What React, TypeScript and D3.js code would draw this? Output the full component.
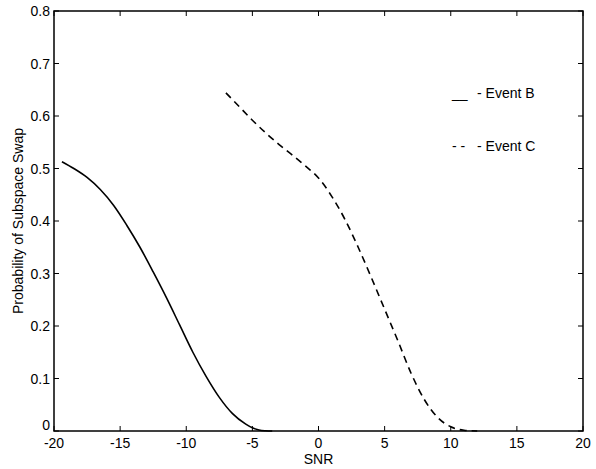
import React from "react";
import * as d3 from "d3";

const xTicks = [-20, -15, -10, -5, 0, 5, 10, 15, 20];
const yTicks = [0, 0.1, 0.2, 0.3, 0.4, 0.5, 0.6, 0.7, 0.8];
const yTickLabels = ["0", "0.1", "0.2", "0.3", "0.4", "0.5", "0.6", "0.7", "0.8"];

const snrB = [-19.4, -18.5, -17.5, -16.5, -15.5, -14.5, -13.5, -12.5, -11.5, -10.5, -9.5, -8.5, -7.5, -6.5, -5.5, -5, -4.5, -4, -3.5];
const probB = [0.513, 0.5, 0.483, 0.46, 0.43, 0.392, 0.35, 0.303, 0.254, 0.202, 0.15, 0.104, 0.064, 0.033, 0.013, 0.006, 0.002, 0.0005, 0];

const snrC = [-7, -6, -5, -4, -3, -2, -1, 0, 1, 2, 3, 4, 5, 6, 7, 8, 9, 10, 11, 12];
const probC = [0.644, 0.618, 0.592, 0.568, 0.546, 0.526, 0.505, 0.482, 0.447, 0.403, 0.35, 0.292, 0.232, 0.172, 0.11, 0.06, 0.026, 0.008, 0.0015, 0];

const W = 596, H = 469;
const L = 54, R = 583, T = 11, B = 431;
const font = "'Liberation Sans', Arial, Helvetica, sans-serif";

export default function App() {
  const x = d3.scaleLinear().domain([-20, 20]).range([L, R]);
  const y = d3.scaleLinear().domain([0, 0.8]).range([B, T]);
  const line = d3
    .line<[number, number]>()
    .x((d) => x(d[0]))
    .y((d) => y(d[1]))
    .curve(d3.curveMonotoneX);
  const dB = line(snrB.map((s, i) => [s, probB[i]] as [number, number])) || "";
  const dC = line(snrC.map((s, i) => [s, probC[i]] as [number, number])) || "";
  const tl = 5;
  return (
    <svg width={W} height={H} style={{ position: "absolute", left: 0, top: 0, background: "#fff" }}>
      <rect x={0} y={0} width={W} height={H} fill="#fff" />
      {xTicks.map((t) => (
        <g key={"x" + t}>
          <line x1={x(t)} x2={x(t)} y1={B} y2={B - tl} stroke="#000" strokeWidth={1} />
          <line x1={x(t)} x2={x(t)} y1={T} y2={T + tl} stroke="#000" strokeWidth={1} />
          <text x={x(t)} y={448} textAnchor="middle" fontFamily={font} fontSize={14} fill="#000">
            {t}
          </text>
        </g>
      ))}
      {yTicks.map((t, i) => (
        <g key={"y" + t}>
          <line x1={L} x2={L + tl} y1={y(t)} y2={y(t)} stroke="#000" strokeWidth={1} />
          <line x1={R} x2={R - tl} y1={y(t)} y2={y(t)} stroke="#000" strokeWidth={1} />
          <text x={50} y={i === 0 ? y(t) - 1 : y(t) + 5} textAnchor="end" fontFamily={font} fontSize={14} fill="#000">
            {yTickLabels[i]}
          </text>
        </g>
      ))}
      <rect x={L} y={T} width={R - L} height={B - T} fill="none" stroke="#000" strokeWidth={1.5} />
      <path d={dB} fill="none" stroke="#000" strokeWidth={1.6} />
      <path d={dC} fill="none" stroke="#000" strokeWidth={1.6} strokeDasharray="7,5" />
      <text x={452} y={98} fontFamily={font} fontSize={14} fill="#000">__</text>
      <text x={477} y={98} fontFamily={font} fontSize={14} fill="#000">- Event B</text>
      <text x={452} y={151} fontFamily={font} fontSize={14} fill="#000">- -</text>
      <text x={477} y={151} fontFamily={font} fontSize={14} fill="#000">- Event C</text>
      <text x={(L + R) / 2} y={464} textAnchor="middle" fontFamily={font} fontSize={14} fill="#000">
        SNR
      </text>
      <text
        transform={`translate(23, ${(T + B) / 2}) rotate(-90)`}
        textAnchor="middle"
        fontFamily={font}
        fontSize={14}
        fill="#000"
      >
        Probability of Subspace Swap
      </text>
    </svg>
  );
}
